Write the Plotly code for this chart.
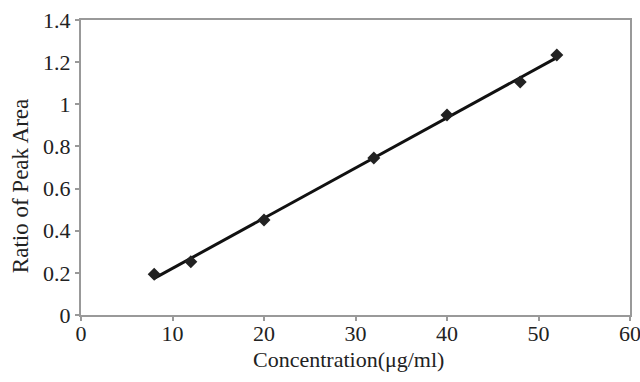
import numpy as np
import plotly.graph_objects as go

concentration = [8, 12, 20, 32, 40, 48, 52]
peak_ratio = [0.193, 0.253, 0.451, 0.745, 0.949, 1.106, 1.234]

coef = np.polyfit(concentration, peak_ratio, 1)
fit_x = [min(concentration), max(concentration)]
fit_y = [coef[0] * v + coef[1] for v in fit_x]

font = "Liberation Serif, Times New Roman, serif"
txt = "#222222"

fig = go.Figure()
fig.add_trace(go.Scatter(x=fit_x, y=fit_y, mode="lines",
                         line=dict(color="#111111", width=3), showlegend=False))
fig.add_trace(go.Scatter(x=concentration, y=peak_ratio, mode="markers",
                         marker=dict(symbol="diamond", size=10, color="#222222"),
                         showlegend=False))

axis_common = dict(showgrid=False, zeroline=False, showline=True, linecolor="#999999",
                   linewidth=2, mirror=True, ticks="outside", tickcolor="#999999",
                   ticklen=4, tickwidth=1.5, automargin=False,
                   ticklabeloverflow="allow",
                   tickfont=dict(family=font, size=22, color=txt))

fig.update_layout(
    width=640, height=382,
    margin=dict(l=81, r=10, t=20, b=67),
    paper_bgcolor="white", plot_bgcolor="white",
    xaxis=dict(range=[0, 60], tickvals=[0, 10, 20, 30, 40, 50, 60],
               ticklabelstandoff=-6, **axis_common),
    yaxis=dict(range=[0, 1.4], tickvals=[0, 0.2, 0.4, 0.6, 0.8, 1, 1.2, 1.4],
               ticktext=["0", "0.2", "0.4", "0.6", "0.8", "1", "1.2", "1.4"],
               **axis_common),
    annotations=[
        dict(text="Concentration(μg/ml)", xref="paper", yref="paper",
             x=0.488, y=-0.152, xanchor="center", yanchor="middle", showarrow=False,
             font=dict(family=font, size=22, color=txt)),
        dict(text="Ratio of Peak Area", xref="paper", yref="paper",
             x=-0.111, y=0.437, xanchor="center", yanchor="middle", textangle=-90,
             showarrow=False, font=dict(family=font, size=23, color=txt)),
    ],
)

fig.write_html("out.html", config={"displayModeBar": False},
               post_script="document.body.style.margin='0';document.body.style.overflow='hidden';")
